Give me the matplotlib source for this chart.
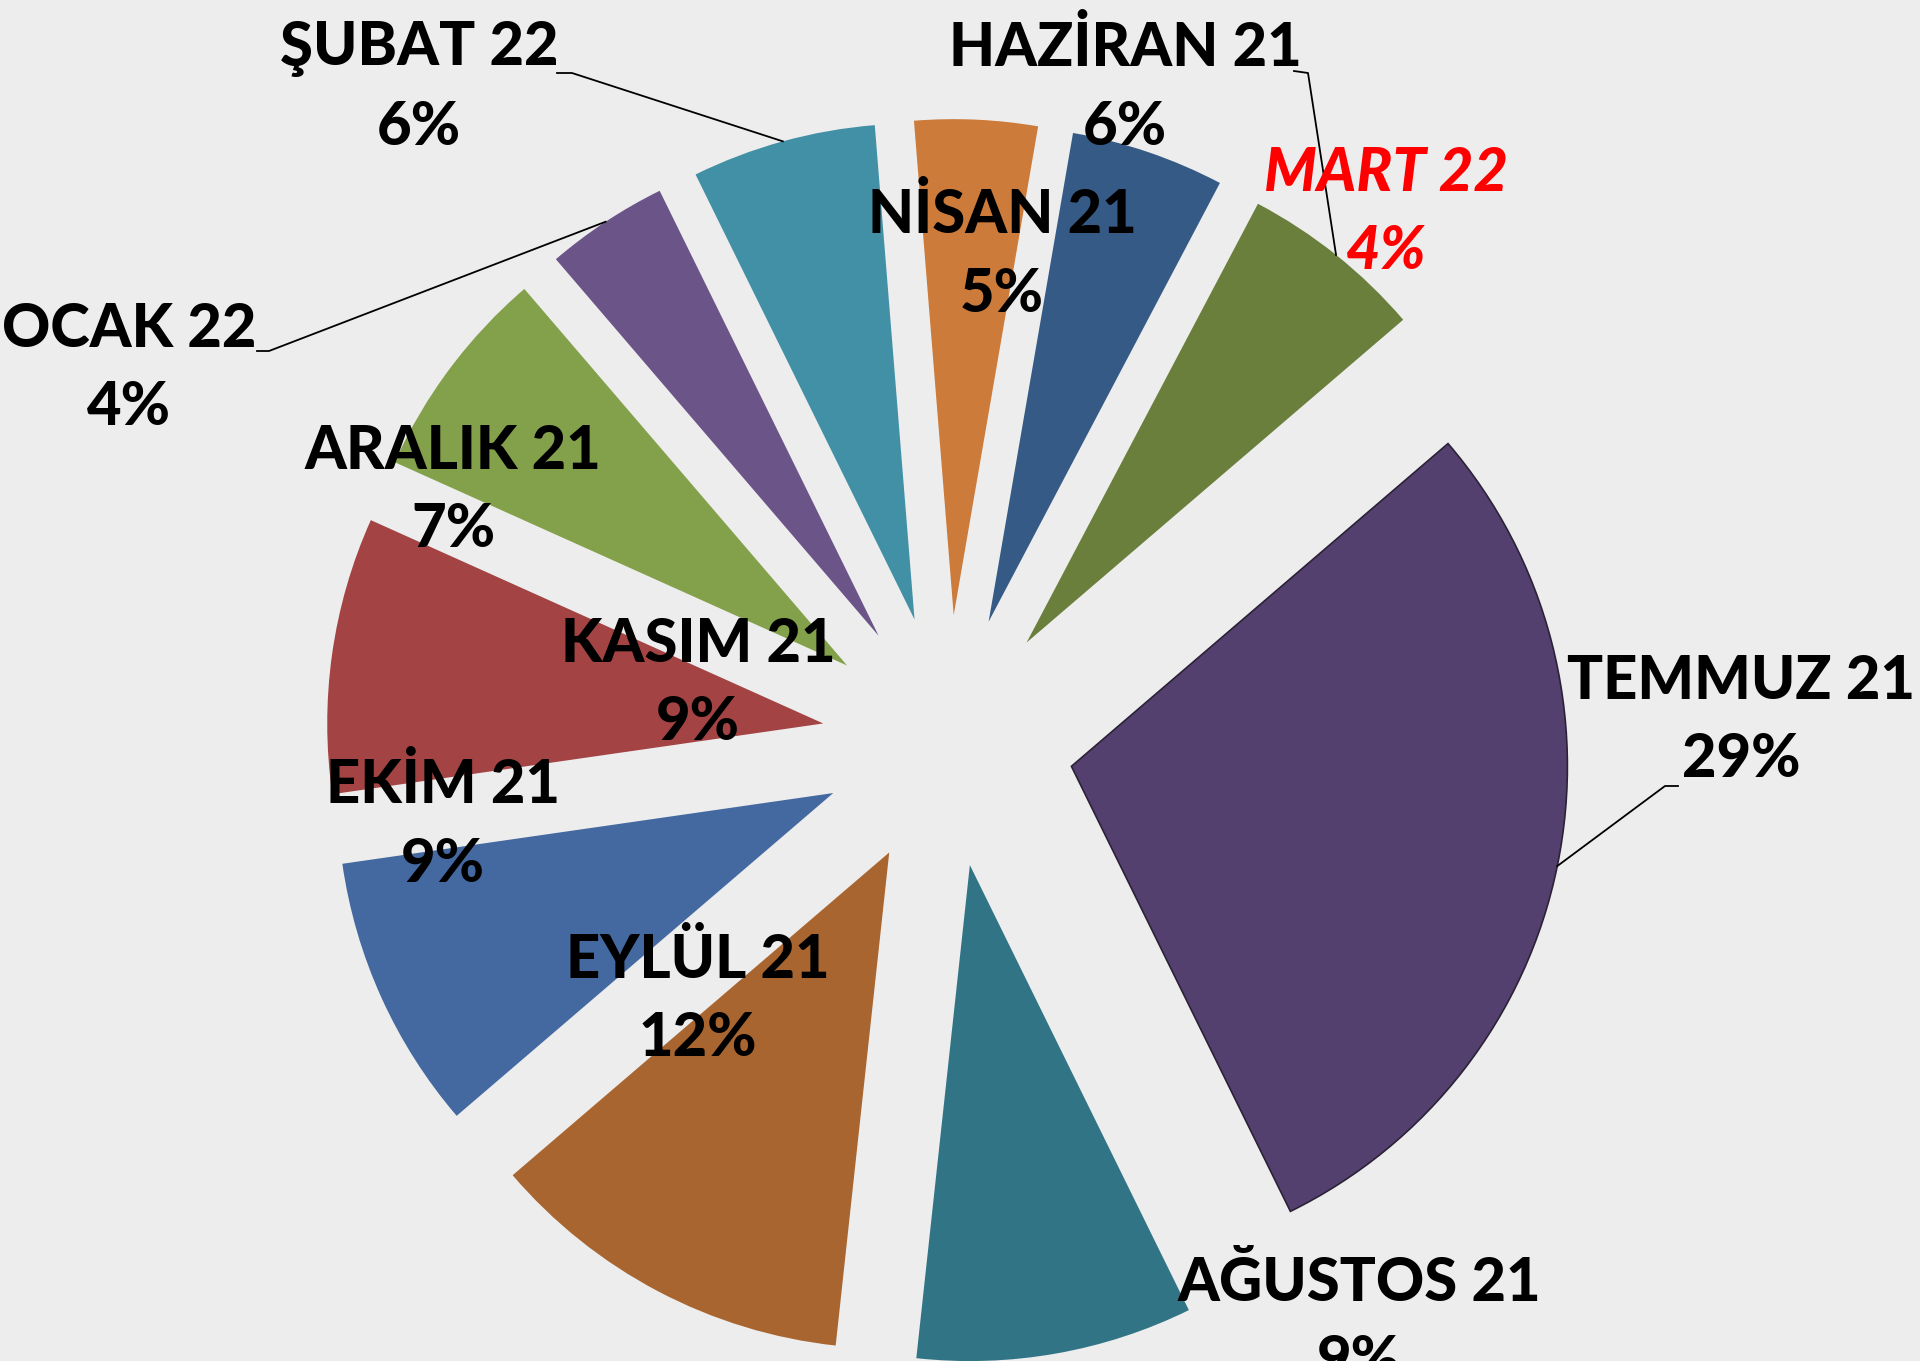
import numpy as np
import matplotlib
matplotlib.use("Agg")
from matplotlib import pyplot as plt

# monthly shares (%), clockwise from the top
months = ['NİSAN 21', 'HAZİRAN 21', 'TEMMUZ 21', 'AĞUSTOS 21', 'EYLÜL 21', 'EKİM 21',
          'KASIM 21', 'ARALIK 21', 'OCAK 22', 'ŞUBAT 22', 'MART 22']
shares = [5, 6, 29, 9, 12, 9, 9, 7, 4, 6, 4]
colors = ['#355a86', '#6a7f3b', '#54406e', '#317485', '#a9652f', '#4369a0',
          '#a34343', '#83a04a', '#6b5488', '#4190a6', '#cd7b3a']

W, H = 1920, 1361
fig = plt.figure(figsize=(W / 100, H / 100), dpi=100)
fig.patch.set_facecolor('#ededed')
ax = fig.add_axes([0, 0, 1, 1])

cx, cy, R = 948, H - 741, 496
wedges, _ = ax.pie(shares, colors=colors, startangle=80.2, counterclock=False,
                   explode=[0.254 * R] * len(shares), center=(cx, cy), radius=R)
wedges[2].set_edgecolor('#2b2238')
wedges[2].set_linewidth(1.2)

ax.set_xlim(0, W)
ax.set_ylim(0, H)
ax.axis('off')

# label centres in pixels from the top-left corner
label_pos = {
    'NİSAN 21': (1002, 254), 'HAZİRAN 21': (1125, 87), 'TEMMUZ 21': (1741, 720),
    'AĞUSTOS 21': (1359, 1322), 'EYLÜL 21': (698, 999), 'EKİM 21': (443, 824),
    'KASIM 21': (698, 683), 'ARALIK 21': (453, 490), 'OCAK 22': (129, 368),
    'ŞUBAT 22': (419, 88), 'MART 22': (1386, 212),
}
# leader lines: label end and elbow, then to the slice edge
leaders = {
    'ŞUBAT 22': [(557, 73), (572, 73)],
    'HAZİRAN 21': [(1294, 71), (1308, 73)],
    'OCAK 22': [(257, 351), (269, 351)],
    'TEMMUZ 21': [(1678, 786), (1665, 786)],
}

for w, name, val in zip(wedges, months, shares):
    x, y = label_pos[name]
    style = dict(ha='center', va='center', fontsize=43, fontweight='black',
                 family='Lato', linespacing=1.48, color='black')
    if name == 'MART 22':
        style.update(color='#ff0000', fontstyle='italic')
    ax.text(x, H - y, f'{name}\n{val}%', **style)
    if name in leaders:
        th = np.deg2rad((w.theta1 + w.theta2) / 2)
        ex = w.center[0] + w.r * np.cos(th)
        ey = w.center[1] + w.r * np.sin(th)
        pts = leaders[name]
        xs = [p[0] for p in pts] + [ex]
        ys = [H - p[1] for p in pts] + [ey]
        ax.plot(xs, ys, color='black', lw=1.3)

fig.savefig('out.png', dpi=100, facecolor=fig.get_facecolor())
